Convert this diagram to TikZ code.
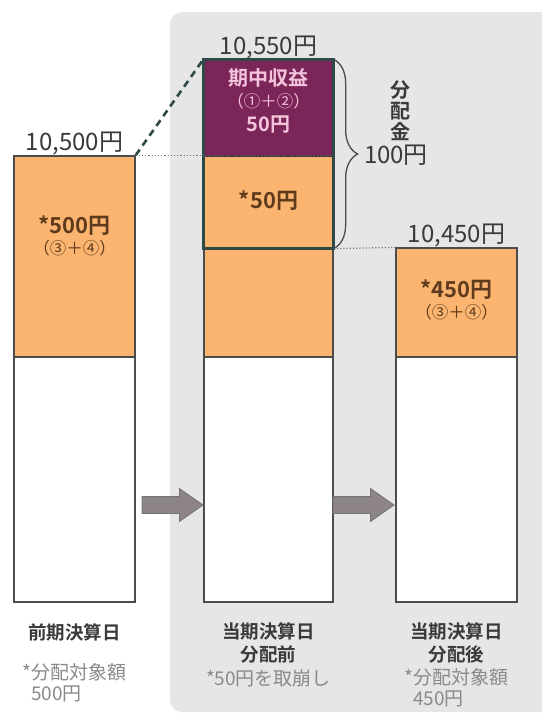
\documentclass[tikz,border=0pt]{standalone}
\usepackage{fontspec}
\setmainfont{Noto Sans CJK JP}[BoldFont={Noto Sans CJK JP Bold}]
\usepackage{tikz}
\usetikzlibrary{positioning, shapes.arrows, decorations.pathreplacing}
\usepackage{xcolor}
\definecolor{barorange}{HTML}{FBB570}
\definecolor{barpurple}{HTML}{7C2558}
\definecolor{panelgray}{HTML}{E6E6E6}
\definecolor{boxteal}{HTML}{2F4848}
\definecolor{textdark}{HTML}{3A3A3A}
\definecolor{textbrown}{HTML}{5E3B1C}
\definecolor{textpink}{HTML}{F3C4DC}
\definecolor{notegray}{HTML}{8A8A8A}
\definecolor{arrowgray}{HTML}{8C8489}

\begin{document}
\begin{tikzpicture}[x=1pt,y=-1pt]
					\tikzstyle{bar} = [rectangle,draw=black!70,line width=1.3pt,inner sep=0pt]
					\tikzstyle{amount} = [font=\fontsize{24}{26}\selectfont,text=textdark]
					\tikzstyle{inlabel} = [font=\bfseries\fontsize{22}{24}\selectfont,text=textbrown]
					\tikzstyle{insub} = [font=\fontsize{16.5}{18}\selectfont,text=textbrown]
					\tikzstyle{daylabel} = [font=\bfseries\fontsize{18.5}{23}\selectfont,text=textdark,align=center]
					\tikzstyle{note} = [font=\fontsize{19}{21}\selectfont,text=notegray,align=left]
					\tikzstyle{blockarrow} = [single arrow,fill=arrowgray,draw=black!55,line width=0.8pt,minimum height=61pt,inner xsep=0pt,inner ysep=8pt,single arrow head extend=8pt,single arrow tip angle=70]
					% background and panel
					\useasboundingbox (0,0) rectangle (541,715);
					\fill[white] (0,0) rectangle (541,715);
					\fill[panelgray,rounded corners=12pt] (170,12) rectangle (560,712);
					% previous closing day
					\node[bar,fill=barorange,minimum width=121pt,minimum height=201pt] (prevorange) at (74.5,256.5) {};
					\node[bar,fill=white,minimum width=121pt,minimum height=245pt] (prevwhite) at (74.5,479.5) {};
					% current closing day, before distribution
					\node[bar,fill=barpurple,minimum width=129pt,minimum height=96pt] (curpurple) at (268.5,108) {};
					\node[bar,fill=barorange,minimum width=129pt,minimum height=92pt] (curorange) at (268.5,202) {};
					\node[bar,fill=barorange,minimum width=129pt,minimum height=109pt] (curbase) at (268.5,302.5) {};
					\node[bar,fill=white,minimum width=129pt,minimum height=245pt] (curwhite) at (268.5,479.5) {};
					% current closing day, after distribution
					\node[bar,fill=barorange,minimum width=121pt,minimum height=109pt] (nextorange) at (456.5,302.5) {};
					\node[bar,fill=white,minimum width=121pt,minimum height=245pt] (nextwhite) at (456.5,479.5) {};
					% distribution box
					\draw[barpurple!60!black,line width=1.5pt,dotted] (curpurple.south west)--(curpurple.south east);
					\draw[boxteal,line width=2.6pt] (curpurple.north west) rectangle (curorange.south east);
					\draw[boxteal,line width=2.6pt,dash pattern=on 7pt off 5pt] (prevorange.north east)--(curpurple.north west);
					\draw[black!55,line width=1.2pt,dotted] (prevorange.north east)--(curorange.north west);
					\draw[black!55,line width=1.2pt,dotted] (curorange.south east)--(nextorange.north west);
					\draw[black!70,line width=1.3pt,decorate,decoration={brace,amplitude=24pt}] (curpurple.north east)--(curorange.south east);
					% amounts
					\node[amount,above=-3pt of prevorange] (prevsum) {10,500円};
					\node[amount,above=-3pt of curpurple] (cursum) {10,550円};
					\node[amount,above=-3pt of nextorange] (nextsum) {10,450円};
					\node[amount,font=\bfseries\fontsize{20}{21}\selectfont,align=center] (divlabel) at (400,111) {分\\配\\金};
					\node[amount] (divsum) at (396,155) {100円};
					% texts in bars
					\node[inlabel] (previn) at (74.5,226) {*500円};
					\node[insub,below=-3pt of previn] (prevsub) {（③＋④）};
					\node[inlabel,font=\bfseries\fontsize{20}{22}\selectfont,text=textpink] (curin) at (268.5,78) {期中収益};
					\node[insub,text=textpink,below=-1pt of curin] (cursub) {（①＋②）};
					\node[inlabel,font=\bfseries\fontsize{20}{22}\selectfont,text=textpink,below=0pt of cursub] (curamt) {50円};
					\node[inlabel] (curin2) at (268.5,201) {*50円};
					\node[inlabel] (nextin) at (456.5,290) {*450円};
					\node[insub,below=-3pt of nextin] (nextsub) {（③＋④）};
					% arrows
					\node[blockarrow] (arr1) at (166.5,505) {};
					\node[blockarrow] (arr2) at (357.5,505) {};
					% day labels
					\node[daylabel] (prevday) at (74.5,632) {前期決算日};
					\node[daylabel] (curday) at (268.5,643) {当期決算日\\分配前};
					\node[daylabel] (nextday) at (456.5,643) {当期決算日\\分配後};
					\node[note] (prevnote) at (74.5,683) {*分配対象額\\\ \ 500円};
					\node[note] (curnote) at (268.5,678) {*50円を取崩し};
					\node[note] (nextnote) at (456.5,688) {*分配対象額\\\ \ 450円};
\end{tikzpicture}
\end{document}
